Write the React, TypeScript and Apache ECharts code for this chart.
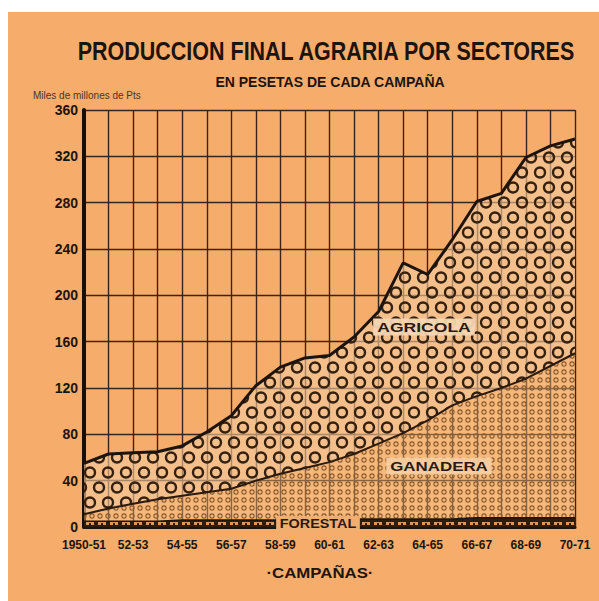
import React, { useEffect, useRef } from "react";
import * as echarts from "echarts";

const campaigns = [
  "1950-51", "51-52", "52-53", "53-54", "54-55", "55-56", "56-57", "57-58", "58-59", "59-60",
  "60-61", "61-62", "62-63", "63-64", "64-65", "65-66", "66-67", "67-68", "68-69", "69-70", "70-71",
];
// Values in miles de millones de pesetas (stacked: forestal, ganadera, agricola)
const forestal = [5, 5, 5, 5, 6, 6, 6, 6, 6, 6, 6, 7, 7, 7, 7, 7, 8, 8, 8, 8, 8];
const ganadera = [6, 11, 15, 19, 21, 24, 27, 34, 40, 45, 50, 56, 65, 74, 85, 98, 105, 112, 120, 131, 142];
const agricola = [44, 47, 44, 41, 43, 52, 63, 82, 92, 95, 92, 101, 114, 147, 126, 143, 168, 168, 191, 190, 185];

const INK = "#1e140e";
const GRID = "#3b2416";
const FONT = "Liberation Sans";

function makeCanvas(w: number, h: number, draw: (c: CanvasRenderingContext2D) => void) {
  const cv = document.createElement("canvas");
  cv.width = w;
  cv.height = h;
  const ctx = cv.getContext("2d")!;
  draw(ctx);
  return { image: cv, repeat: "repeat", imageWidth: w, imageHeight: h } as any;
}

export default function App() {
  const ref = useRef<HTMLDivElement>(null);
  useEffect(() => {
    if (!ref.current) return;
    const chart = echarts.init(ref.current, undefined, { renderer: "svg" });

    const agriPattern = makeCanvas(18, 30, (c) => {
      c.fillStyle = "rgba(244,204,160,0.6)";
      c.fillRect(0, 0, 18, 30);
      c.strokeStyle = "#34200f";
      c.lineWidth = 2.4;
      const pts = [[9, 7.5], [0, 22.5], [18, 22.5]];
      for (const [x, y] of pts) {
        c.beginPath();
        c.arc(x, y, 5, 0, Math.PI * 2);
        c.stroke();
      }
    });
    const ganPattern = makeCanvas(8, 8, (c) => {
      c.fillStyle = "rgba(246,198,145,0.4)";
      c.fillRect(0, 0, 8, 8);
      c.strokeStyle = "#8a5a2c";
      c.lineWidth = 1.1;
      c.beginPath();
      c.arc(4, 4, 2.1, 0, Math.PI * 2);
      c.stroke();
    });
    const forPattern = makeCanvas(12, 8, (c) => {
      c.fillStyle = "#2c1c12";
      c.fillRect(0, 0, 12, 8);
      c.fillStyle = "#d99a5c";
      c.fillRect(2, 2, 8, 3);
      c.fillStyle = "#2c1c12";
      c.fillRect(5, 3, 2, 2);
    });

    const label = (text: string, x: number, y: number, sx: number, size: number, bg: string) => ({
      type: "text",
      x,
      y,
      z: 100,
      scaleX: sx,
      style: {
        text,
        fontSize: size,
        fontWeight: "bold",
        fontFamily: FONT,
        fill: "#2a1a12",
        backgroundColor: bg,
        padding: [2, 3],
        textAlign: "center",
        textVerticalAlign: "middle",
      },
    });

    chart.setOption({
      animation: false,
      backgroundColor: "#f6ad6b",
      grid: { left: 84, right: 24, top: 110, bottom: 74 },
      xAxis: {
        type: "category",
        data: campaigns,
        boundaryGap: false,
        axisLine: { lineStyle: { color: INK, width: 3 } },
        axisTick: { show: false },
        axisLabel: {
          interval: 1,
          color: INK,
          fontWeight: "bold",
          fontSize: 12,
          fontFamily: FONT,
          margin: 12,
        },
        splitLine: { show: true, interval: 0, lineStyle: { color: GRID, width: 1.4 } },
      },
      yAxis: {
        type: "value",
        min: 0,
        max: 360,
        interval: 40,
        axisLine: { show: true, lineStyle: { color: "#16100c", width: 4 } },
        axisTick: { show: false },
        axisLabel: {
          color: INK,
          fontWeight: "bold",
          fontSize: 14,
          fontFamily: FONT,
          margin: 6,
        },
        splitLine: { show: true, lineStyle: { color: GRID, width: 1.4 } },
      },
      series: [
        {
          name: "Forestal",
          type: "line",
          stack: "total",
          data: forestal,
          showSymbol: false,
          lineStyle: { color: INK, width: 1.5 },
          areaStyle: { color: forPattern, opacity: 1 },
        },
        {
          name: "Ganadera",
          type: "line",
          stack: "total",
          data: ganadera,
          showSymbol: false,
          lineStyle: { color: "#2a1a10", width: 2 },
          areaStyle: { color: ganPattern, opacity: 1 },
        },
        {
          name: "Agricola",
          type: "line",
          stack: "total",
          data: agricola,
          showSymbol: false,
          lineStyle: { color: INK, width: 3 },
          areaStyle: { color: agriPattern, opacity: 1 },
        },
      ],
      graphic: [
        { type: "rect", shape: { x: 0, y: 0, width: 599, height: 12 }, style: { fill: "#ffffff" }, silent: true },
        { type: "rect", shape: { x: 0, y: 0, width: 8, height: 601 }, style: { fill: "#ffffff" }, silent: true },
        {
          type: "text",
          x: 326,
          y: 51,
          scaleX: 0.86,
          style: {
            text: "PRODUCCION FINAL AGRARIA POR SECTORES",
            fontSize: 25,
            fontWeight: "bold",
            fontFamily: FONT,
            fill: INK,
            textAlign: "center",
            textVerticalAlign: "middle",
          },
        },
        {
          type: "text",
          x: 330,
          y: 82,
          style: {
            text: "EN PESETAS DE CADA CAMPAÑA",
            fontSize: 14,
            fontWeight: "bold",
            fontFamily: FONT,
            fill: INK,
            textAlign: "center",
            textVerticalAlign: "middle",
          },
        },
        {
          type: "text",
          x: 33,
          y: 95,
          style: {
            text: "Miles de millones de Pts",
            fontSize: 10,
            fontFamily: FONT,
            fill: "#4a3526",
            textAlign: "left",
            textVerticalAlign: "middle",
          },
        },
        {
          type: "text",
          x: 320,
          y: 573,
          scaleX: 1.2,
          style: {
            text: "·CAMPAÑAS·",
            fontSize: 14,
            fontWeight: "bold",
            fontFamily: FONT,
            fill: INK,
            textAlign: "center",
            textVerticalAlign: "middle",
          },
        },
        label("AGRICOLA", 424, 327, 1.35, 13, "rgba(246,214,178,0.95)"),
        label("GANADERA", 439, 466, 1.3, 13, "rgba(246,205,160,0.95)"),
        label("FORESTAL", 318, 524, 1.2, 12, "#f0ae70"),
      ],
    });
    return () => chart.dispose();
  }, []);
  return (
    <div
      ref={ref}
      style={{ position: "fixed", left: 0, top: 0, width: 599, height: 601 }}
    />
  );
}
